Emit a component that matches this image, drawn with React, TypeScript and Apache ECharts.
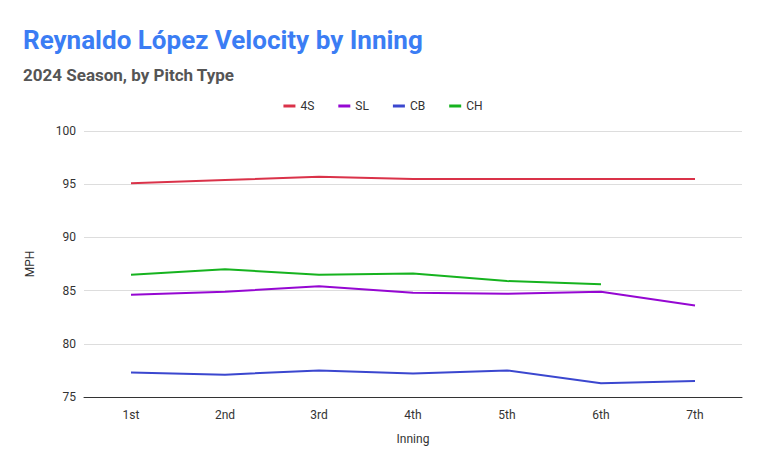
import React, { useEffect, useRef } from 'react';
import * as echarts from 'echarts';

const innings = ['1st', '2nd', '3rd', '4th', '5th', '6th', '7th'];
const fourSeam = [95.1, 95.4, 95.7, 95.5, 95.5, 95.5, 95.5];
const slider = [84.6, 84.9, 85.4, 84.8, 84.7, 84.9, 83.6];
const curve = [77.3, 77.1, 77.5, 77.2, 77.5, 76.3, 76.5];
const change = [86.5, 87.0, 86.5, 86.6, 85.9, 85.6, null];

const App = () => {
  const chartRef = useRef<HTMLDivElement>(null);

  useEffect(() => {
    if (!chartRef.current) return;
    const chart = echarts.init(chartRef.current, undefined, { renderer: 'svg' });
    const line = (name: string, data: (number | null)[], color: string) => ({
      name,
      type: 'line',
      data,
      symbol: 'none',
      lineStyle: { width: 2, color },
      itemStyle: { color },
    });
    chart.setOption({
      animation: false,
      textStyle: { fontFamily: 'Roboto, Arial, sans-serif' },
      title: [
        {
          text: 'Reynaldo López Velocity by Inning',
          left: 10,
          top: 14,
          textStyle: { color: '#3b7df4', fontSize: 26, fontWeight: 'bold' },
        },
        {
          text: '2024 Season, by Pitch Type',
          left: 10,
          top: 53,
          textStyle: { color: '#555', fontSize: 17, fontWeight: 'bold' },
        },
      ],
      legend: {
        top: 87,
        left: 'center',
        icon: 'rect',
        itemWidth: 12,
        itemHeight: 3,
        itemGap: 24,
        textStyle: { color: '#333', fontSize: 12 },
      },
      grid: { left: 76, right: 16, top: 123, bottom: 68 },
      xAxis: {
        type: 'category',
        data: innings,
        name: 'Inning',
        nameLocation: 'middle',
        nameGap: 36,
        nameTextStyle: { color: '#333', fontSize: 12 },
        axisTick: { show: false },
        axisLine: { lineStyle: { color: '#333' } },
        axisLabel: { color: '#333', fontSize: 12, margin: 12 },
      },
      yAxis: {
        type: 'value',
        min: 75,
        max: 100,
        interval: 5,
        name: 'MPH',
        nameLocation: 'middle',
        nameGap: 48,
        nameTextStyle: { color: '#333', fontSize: 12 },
        axisLabel: { color: '#333', fontSize: 12 },
        splitLine: { lineStyle: { color: '#ddd' } },
      },
      series: [
        line('4S', fourSeam, '#da3249'),
        line('SL', slider, '#9507d2'),
        line('CB', curve, '#3b47cf'),
        line('CH', change, '#16b31f'),
      ],
    });
    return () => chart.dispose();
  }, []);

  return <div ref={chartRef} style={{ width: '750px', height: '457px' }}></div>;
};

export default App;
